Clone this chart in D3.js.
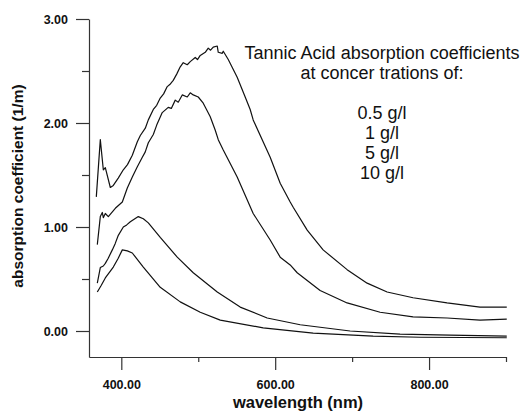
<!DOCTYPE html>
<html>
<head>
<meta charset="utf-8">
<script src="https://cdn.jsdelivr.net/npm/d3@7"></script>
<style>
  body { margin: 0; background: #fff; }
  text { font-family: "Liberation Sans", Arial, sans-serif; fill: #111; }
  .tick text { font-weight: bold; font-size: 12.5px; }
</style>
</head>
<body>
<div id="chart"></div>
<script>
// wavelength (nm), absorption coefficient (1/m)
var conc10 = [[367.5,1.29],[372.7,1.84],[376.6,1.55],[379.2,1.57],[385.7,1.38],[389.6,1.40],[396,1.47],[402.6,1.55],[408,1.60],[414.3,1.69],[420.8,1.82],[424.7,1.88],[431.2,1.95],[435.1,2.03],[441.6,2.13],[446,2.17],[450.6,2.24],[455,2.28],[459.7,2.35],[463,2.37],[467.5,2.41],[472,2.47],[476.6,2.54],[480.5,2.58],[485.7,2.56],[489.6,2.59],[496.1,2.63],[499,2.61],[502.6,2.65],[509.1,2.68],[513,2.72],[516,2.70],[519.5,2.73],[524.7,2.74],[526,2.68],[531.2,2.67],[532.5,2.69],[539,2.61],[550.6,2.44],[561,2.25],[567.5,2.13],[571.4,2.03],[593.5,1.67],[606.5,1.42],[619.5,1.24],[623.4,1.19],[641.6,0.97],[662.3,0.78],[693.5,0.59],[719.5,0.46],[745.5,0.375],[779.2,0.32],[823.4,0.27],[866.2,0.23],[901,0.23]];
var conc5 = [[368.8,0.83],[372.7,1.10],[375.3,1.14],[376.6,1.09],[379.2,1.13],[383.1,1.10],[392.2,1.18],[401.3,1.24],[407.8,1.375],[414.3,1.48],[420.8,1.58],[427.3,1.67],[431,1.72],[435.1,1.81],[441.6,1.89],[446,1.98],[453.2,2.10],[461,2.15],[465,2.14],[470.1,2.22],[474,2.20],[479.2,2.27],[485.7,2.25],[489.6,2.29],[493.5,2.27],[500,2.25],[506.5,2.19],[515.6,2.06],[522.1,1.93],[526,1.84],[532.5,1.74],[550.6,1.48],[571.4,1.13],[593.5,0.875],[606.5,0.71],[619.5,0.635],[628.6,0.56],[658.4,0.39],[693.5,0.27],[736.4,0.18],[779.2,0.135],[823.4,0.125],[866.2,0.105],[901,0.115]];
var conc1 = [[368.8,0.46],[372.7,0.61],[376.6,0.625],[379.2,0.65],[383,0.70],[388.3,0.78],[392,0.84],[396.1,0.92],[402.6,1.00],[407,1.02],[411.7,1.05],[422.1,1.10],[428.6,1.08],[435.1,1.04],[450.6,0.90],[472.7,0.71],[493.5,0.56],[524.7,0.375],[554.5,0.23],[589.6,0.125],[632.5,0.06],[697.4,0.0],[762.3,-0.03],[827.3,-0.04],[901,-0.05]];
var conc05 = [[368.8,0.375],[374,0.44],[379.2,0.51],[389.6,0.615],[396,0.70],[401.3,0.78],[407.8,0.77],[414.3,0.75],[428.6,0.615],[450.6,0.42],[476.6,0.28],[502.6,0.18],[528.6,0.105],[584.4,0.03],[649.4,-0.02],[727.3,-0.05],[788.3,-0.06],[901,-0.065]];
var series = [conc10, conc5, conc1, conc05];

var xMajor = [400, 600, 800];
var xMinor = [500, 700, 900];
var yMajor = [0, 1, 2, 3];
var yMinor = [0.5, 1.5, 2.5];

var titleLines = ["Tannic Acid absorption coefficients", "at concer trations of:", "", "0.5 g/l", "1 g/l", "5 g/l", "10 g/l"];

var svgWidth = 529;
var svgHeight = 412;

var svg = d3.select("#chart")
  .append("svg")
  .attr("width", svgWidth)
  .attr("height", svgHeight);

var x = d3.scaleLinear().domain([358, 900]).range([89, 506]);
var y = d3.scaleLinear().domain([-0.25, 3]).range([357, 19]);

// axes
var xAxis = svg.append("g")
  .attr("transform", "translate(0, 357)")
  .call(d3.axisBottom(x).tickValues(xMajor).tickSize(13).tickSizeOuter(0)
    .tickPadding(10).tickFormat(d3.format(".2f")));
svg.append("g")
  .attr("transform", "translate(0, 357)")
  .call(d3.axisBottom(x).tickValues(xMinor).tickSize(5).tickSizeOuter(0).tickFormat(""))
  .select(".domain").remove();

var yAxis = svg.append("g")
  .attr("transform", "translate(89, 0)")
  .call(d3.axisLeft(y).tickValues(yMajor).tickSize(13).tickSizeOuter(0)
    .tickPadding(8).tickFormat(d3.format(".2f")));
svg.append("g")
  .attr("transform", "translate(89, 0)")
  .call(d3.axisLeft(y).tickValues(yMinor).tickSize(7).tickSizeOuter(0).tickFormat(""))
  .select(".domain").remove();

svg.selectAll(".domain, .tick line")
  .attr("stroke", "#333")
  .attr("stroke-width", 1.2);

// curves
var line = d3.line()
  .x(d => x(d[0]))
  .y(d => y(d[1]));

svg.selectAll(".curve")
  .data(series)
  .enter()
  .append("path")
  .attr("class", "curve")
  .attr("d", line)
  .attr("fill", "none")
  .attr("stroke", "#111")
  .attr("stroke-width", 1.2)
  .attr("stroke-linejoin", "round");

// labels
svg.append("text")
  .attr("x", 298)
  .attr("y", 408)
  .attr("text-anchor", "middle")
  .attr("font-size", "16.5px")
  .attr("font-weight", "bold")
  .text("wavelength (nm)");

svg.append("text")
  .attr("transform", "translate(23, 186) rotate(-90)")
  .attr("text-anchor", "middle")
  .attr("font-size", "15.5px")
  .attr("font-weight", "bold")
  .text("absorption coefficient (1/m)");

svg.selectAll(".legend")
  .data(titleLines)
  .enter()
  .append("text")
  .attr("class", "legend")
  .attr("x", 382)
  .attr("y", (d, i) => 59 + i * 20)
  .attr("text-anchor", "middle")
  .attr("font-size", "18px")
  .text(d => d);
</script>
</body>
</html>
